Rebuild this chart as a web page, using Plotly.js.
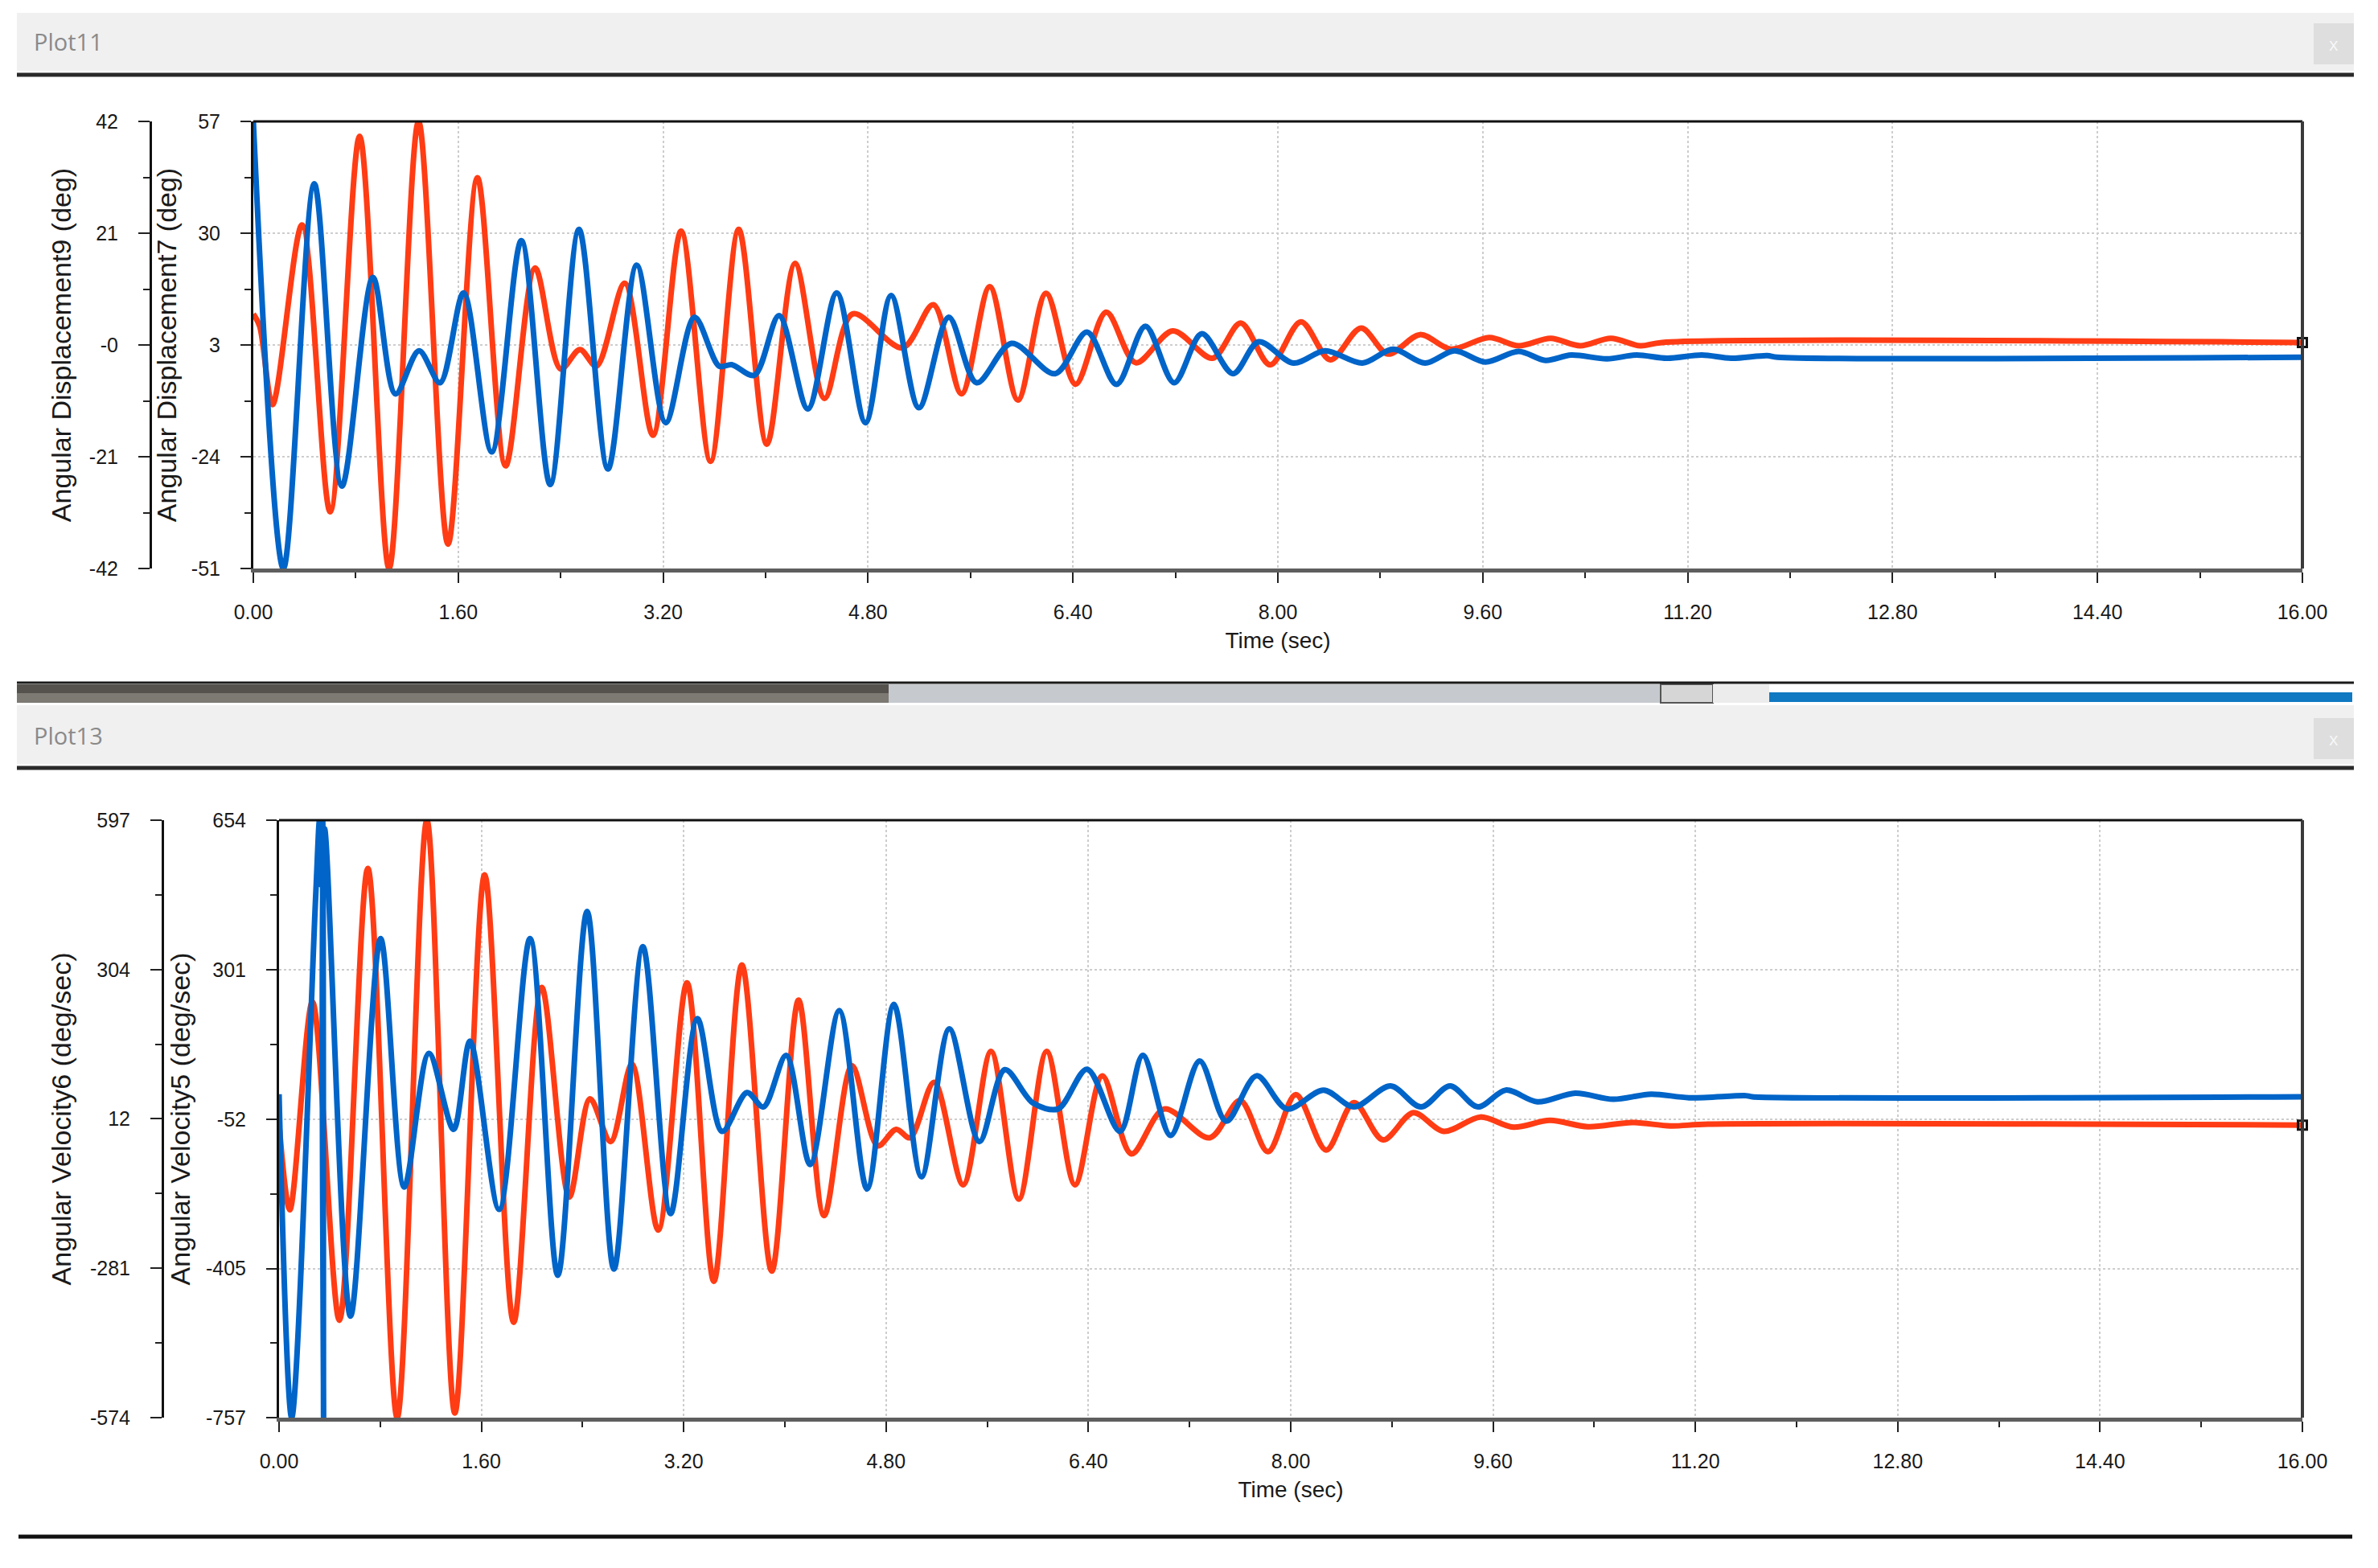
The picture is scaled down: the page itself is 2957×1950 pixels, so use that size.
<!DOCTYPE html>
<html><head><meta charset="utf-8">
<script src="https://cdn.plot.ly/plotly-3.0.1.min.js"></script>
<style>html,body{margin:0;padding:0;background:#fff;overflow:hidden}#chart{width:2957px;height:1950px}</style>
</head><body><div id="chart"></div>
<script>
// ---- tick labels ----
const timeTickLabels = ["0.00","1.60","3.20","4.80","6.40","8.00","9.60","11.20","12.80","14.40","16.00"];
const disp7TickLabels = ["-51","-24","3","30","57"];
const disp9TickLabels = ["-42","-21","-0","21","42"];
const vel5TickLabels  = ["-757","-405","-52","301","654"];
const vel6TickLabels  = ["-574","-281","12","304","597"];

// ---- Plot11: Angular Displacement7 (red) ----
const disp7Time = [0,0.05,0.15,0.38,0.60,0.83,1.06,1.29,1.52,1.75,1.97,2.20,2.40,2.55,2.68,2.90,3.12,3.34,3.57,3.79,4.01,4.23,4.46,4.68,5.07,5.31,5.53,5.75,5.97,6.19,6.42,6.66,6.89,7.18,7.49,7.71,7.94,8.18,8.41,8.65,8.86,9.11,9.35,9.65,9.88,10.13,10.36,10.60,10.83,11.00,16.00];
const disp7 = [10.5,7.5,-11.4,32.0,-37.3,53.4,-51,57,-45.1,43.4,-26.2,21.6,-2.8,1.9,-2.1,17.9,-18.8,30.5,-25.1,30.9,-21.0,22.7,-9.9,10.5,2.3,12.7,-8.8,17.1,-10.3,15.5,-6.5,10.9,-1.3,6.4,-0.2,8.3,-1.8,8.6,-0.6,7.1,0.8,5.5,2.0,4.8,2.8,4.6,2.8,4.6,2.8,3.6,3.6];

// ---- Plot11: Angular Displacement9 (blue) ----
const disp9Time = [0,0.235,0.476,0.692,0.934,1.11,1.294,1.458,1.642,1.861,2.093,2.318,2.543,2.769,2.994,3.22,3.445,3.638,3.735,3.912,4.105,4.33,4.556,4.78,4.98,5.197,5.43,5.648,5.92,6.26,6.51,6.74,6.966,7.19,7.406,7.65,7.85,8.12,8.37,8.66,8.9,9.15,9.38,9.62,9.88,10.09,10.29,10.57,10.8,11.04,11.31,11.54,11.82,11.9,16.0];
const disp9 = [42,-42,30.3,-26.5,12.7,-9.2,-1.1,-7.1,9.8,-20.1,19.6,-26.2,21.7,-23.3,15.0,-14.6,5.2,-4.0,-3.7,-5.7,5.5,-12.0,9.8,-14.6,9.3,-11.8,5.2,-7.1,0.3,-5.4,2.4,-7.4,3.5,-7.1,2.1,-5.4,0.6,-3.4,-1.1,-3.4,-0.8,-3.4,-1.1,-3.2,-1.2,-2.9,-1.9,-2.6,-1.9,-2.5,-1.9,-2.5,-2.0,-2.3,-2.3];

// ---- Plot13: Angular Velocity5 (red) ----
const vel5Time = [0,0.085,0.264,0.477,0.702,0.934,1.169,1.39,1.626,1.855,2.077,2.295,2.459,2.622,2.79,2.998,3.226,3.438,3.66,3.896,4.108,4.31,4.53,4.734,4.88,4.99,5.18,5.41,5.63,5.85,6.07,6.294,6.51,6.74,7.0,7.36,7.6,7.82,8.04,8.28,8.5,8.73,8.97,9.21,9.5,9.76,10.05,10.35,10.7,11.0,11.3,16.0];
const vel5 = [-62,-266,225,-527,540,-757,654,-746,525,-532,259,-236,-4,-105,78,-314,270,-435,312,-411,229,-280,74,-115,-76,-96,35,-207,108,-241,108,-207,50,-134,-28,-96,-8,-129,6,-125,-13,-101,-37,-81,-47,-71,-55,-70,-60,-68,-64,-66];

// ---- Plot13: Angular Velocity6 (blue) ----
const vel6Time = [0,0.1,0.29,0.32,0.335,0.345,0.352,0.36,0.565,0.803,0.99,1.185,1.38,1.51,1.74,1.985,2.204,2.436,2.648,2.877,3.096,3.308,3.504,3.70,3.83,4.01,4.2,4.43,4.65,4.862,5.08,5.3,5.538,5.739,5.96,6.16,6.39,6.65,6.83,7.05,7.28,7.49,7.73,7.97,8.26,8.5,8.79,9.03,9.26,9.48,9.7,9.95,10.25,10.55,10.85,11.15,11.6,11.65,16.0];
const vel6 = [60,-574,450,597,470,597,-574,580,-375,365,-122,140,-9,164,-166,365,-295,418,-283,349,-174,208,-13,63,35,136,-78,224,-126,236,-102,188,-33,108,43,31,109,-13,136,-21,125,7,96,31,68,35,76,35,76,35,68,45,62,50,60,53,57,55,55];

// ---- helpers ----
const W = 2957, H = 1950;
const px = x => x / W;
const py = y => 1 - y / H;
const nums = a => a.map(Number);
const mids = a => { const v = nums(a); const m = []; for (let i = 0; i < v.length - 1; i++) m.push((v[i] + v[i+1]) / 2); return m; };
const last = a => a[a.length - 1];

const BLUE = '#0064c8', RED = '#ff3c14';
const FONT = 'Liberation Sans, Arial, sans-serif';
const tickFont = {family: FONT, size: 25, color: '#1a1a1a'};
const yTitleFont = {family: FONT, size: 34, color: '#1a1a1a'};
const xTitleFont = {family: FONT, size: 28, color: '#1a1a1a'};

function xAxis(dom, anchor) {
  return {
    domain: dom, anchor: anchor, range: [0, 16],
    tickmode: 'array', tickvals: nums(timeTickLabels), ticktext: timeTickLabels, tickfont: tickFont,
    ticks: 'outside', ticklen: 13, tickwidth: 2, tickcolor: '#222', ticklabelstandoff: 15,
    showline: true, linecolor: '#5e5e5e', linewidth: 5,
    showgrid: true, gridcolor: '#cdcdcd', gridwidth: 2, griddash: 'dot', zeroline: false,
    minor: {tickmode: 'array', tickvals: mids(timeTickLabels), ticks: 'outside', ticklen: 7, tickwidth: 2, tickcolor: '#222', showgrid: false},
    title: {text: 'Time (sec)', font: xTitleFont, standoff: 14}
  };
}
function yInner(dom, anchor, labels, title, standoff) {
  const v = nums(labels);
  return {
    domain: dom, anchor: anchor, range: [v[0], last(v)],
    tickmode: 'array', tickvals: v, ticktext: labels, tickfont: tickFont,
    ticks: 'outside', ticklen: 13, tickwidth: 2, tickcolor: '#222', ticklabelstandoff: 20,
    showline: true, linecolor: '#111', linewidth: 3,
    showgrid: true, gridcolor: '#cdcdcd', gridwidth: 2, griddash: 'dot', zeroline: false,
    minor: {tickmode: 'array', tickvals: mids(labels), ticks: 'outside', ticklen: 8, tickwidth: 2, tickcolor: '#222', showgrid: false},
    title: {text: title, font: yTitleFont, standoff: standoff}
  };
}
function yOuter(over, pos, labels, title, standoff) {
  const v = nums(labels);
  return {
    overlaying: over, anchor: 'free', position: pos, side: 'left', range: [v[0], last(v)],
    tickmode: 'array', tickvals: v, ticktext: labels, tickfont: tickFont,
    ticks: 'outside', ticklen: 14, tickwidth: 2, tickcolor: '#222', ticklabelstandoff: 20,
    showline: true, linecolor: '#111', linewidth: 3, showgrid: false, zeroline: false,
    minor: {tickmode: 'array', tickvals: mids(labels), ticks: 'outside', ticklen: 8, tickwidth: 2, tickcolor: '#222', showgrid: false},
    title: {text: title, font: yTitleFont, standoff: standoff}
  };
}

const lineOf = (color) => ({color: color, width: 7, shape: 'spline', smoothing: 0.9});
const traces = [
  {x: disp7Time, y: disp7, xaxis: 'x', yaxis: 'y', mode: 'lines', line: lineOf(RED), name: 'Angular Displacement7'},
  {x: disp9Time, y: disp9, xaxis: 'x', yaxis: 'y2', mode: 'lines', line: lineOf(BLUE), name: 'Angular Displacement9'},
  {x: [last(disp7Time)], y: [last(disp7)], xaxis: 'x', yaxis: 'y', mode: 'markers', marker: {symbol: 'square-open', size: 11, color: '#111', line: {width: 3}}, cliponaxis: false, showlegend: false},
  {x: vel5Time, y: vel5, xaxis: 'x2', yaxis: 'y3', mode: 'lines', line: lineOf(RED), name: 'Angular Velocity5'},
  {x: vel6Time, y: vel6, xaxis: 'x2', yaxis: 'y4', mode: 'lines', line: lineOf(BLUE), name: 'Angular Velocity6'},
  {x: [last(vel5Time)], y: [last(vel5)], xaxis: 'x2', yaxis: 'y3', mode: 'markers', marker: {symbol: 'square-open', size: 11, color: '#111', line: {width: 3}}, cliponaxis: false, showlegend: false}
];

const rect = (x0, y0, x1, y1, fill, lc, lw) => ({type: 'rect', xref: 'paper', yref: 'paper', x0: px(x0), x1: px(x1), y0: py(y1), y1: py(y0), fillcolor: fill, line: {color: lc || fill, width: lw || 0}, layer: 'below'});
const hline = (x0, x1, y, color, w) => ({type: 'line', xref: 'paper', yref: 'paper', x0: px(x0), x1: px(x1), y0: py(y), y1: py(y), line: {color: color, width: w}});
const frame = (xr, yr) => [
  {type: 'line', xref: xr + ' domain', yref: yr + ' domain', x0: 0, x1: 1, y0: 1, y1: 1, line: {color: '#111', width: 3}},
  {type: 'line', xref: xr + ' domain', yref: yr + ' domain', x0: 1, x1: 1, y0: 0, y1: 1, line: {color: '#3a3a3a', width: 4}}
];

const shapes = [
  rect(21, 16, 2927, 88, '#f0f0f0'),
  hline(21, 2927, 93, '#2a2a2a', 5),
  rect(2877, 29, 2927, 80, '#dedede'),
  hline(21, 2927, 849, '#1a1a1a', 3),
  rect(21, 851, 1105, 862, '#55524e'),
  rect(21, 862, 1105, 874, '#7d7973'),
  rect(1105, 851, 2065, 874, '#c6c9ce'),
  rect(2065, 851, 2130, 874, '#d6d6d6', '#555', 2),
  rect(2130, 851, 2200, 874, '#ececec'),
  rect(2200, 861, 2925, 873, '#1079c2'),
  rect(21, 877, 2927, 950, '#f0f0f0'),
  hline(21, 2927, 955, '#2a2a2a', 5),
  rect(2877, 893, 2927, 944, '#dedede'),
  hline(23, 2925, 1911, '#111', 5),
  ...frame('x', 'y'),
  ...frame('x2', 'y3')
];

const chromeFont = {family: 'Open Sans, Noto Sans, sans-serif', size: 29, color: '#8a8a8a'};
const annotations = [
  {text: 'Plot11', xref: 'paper', yref: 'paper', x: px(40), y: py(52), xanchor: 'left', yanchor: 'middle', showarrow: false, font: chromeFont},
  {text: 'Plot13', xref: 'paper', yref: 'paper', x: px(40), y: py(914), xanchor: 'left', yanchor: 'middle', showarrow: false, font: chromeFont},
  {text: 'x', xref: 'paper', yref: 'paper', x: px(2902), y: py(54), xanchor: 'center', yanchor: 'middle', showarrow: false, font: {family: 'Open Sans, sans-serif', size: 22, color: '#f7f7f7'}},
  {text: 'x', xref: 'paper', yref: 'paper', x: px(2902), y: py(918), xanchor: 'center', yanchor: 'middle', showarrow: false, font: {family: 'Open Sans, sans-serif', size: 22, color: '#f7f7f7'}}
];

const topX = [px(315), px(2863)], topY = [py(707), py(151)];
const botX = [px(347), px(2863)], botY = [py(1763), py(1020)];

const layout = {
  width: W, height: H, margin: {l: 0, r: 0, t: 0, b: 0},
  paper_bgcolor: '#ffffff', plot_bgcolor: 'rgba(0,0,0,0)', showlegend: false,
  xaxis: xAxis(topX, 'y'),
  yaxis: yInner(topY, 'x', disp7TickLabels, 'Angular Displacement7 (deg)', 8),
  yaxis2: yOuter('y', px(187), disp9TickLabels, 'Angular Displacement9 (deg)', 10),
  xaxis2: xAxis(botX, 'y3'),
  yaxis3: yInner(botY, 'x2', vel5TickLabels, 'Angular Velocity5 (deg/sec)', 10),
  yaxis4: yOuter('y3', px(202), vel6TickLabels, 'Angular Velocity6 (deg/sec)', 12),
  shapes: shapes, annotations: annotations
};

Plotly.newPlot('chart', traces, layout, {displayModeBar: false, staticPlot: true});
</script></body></html>
